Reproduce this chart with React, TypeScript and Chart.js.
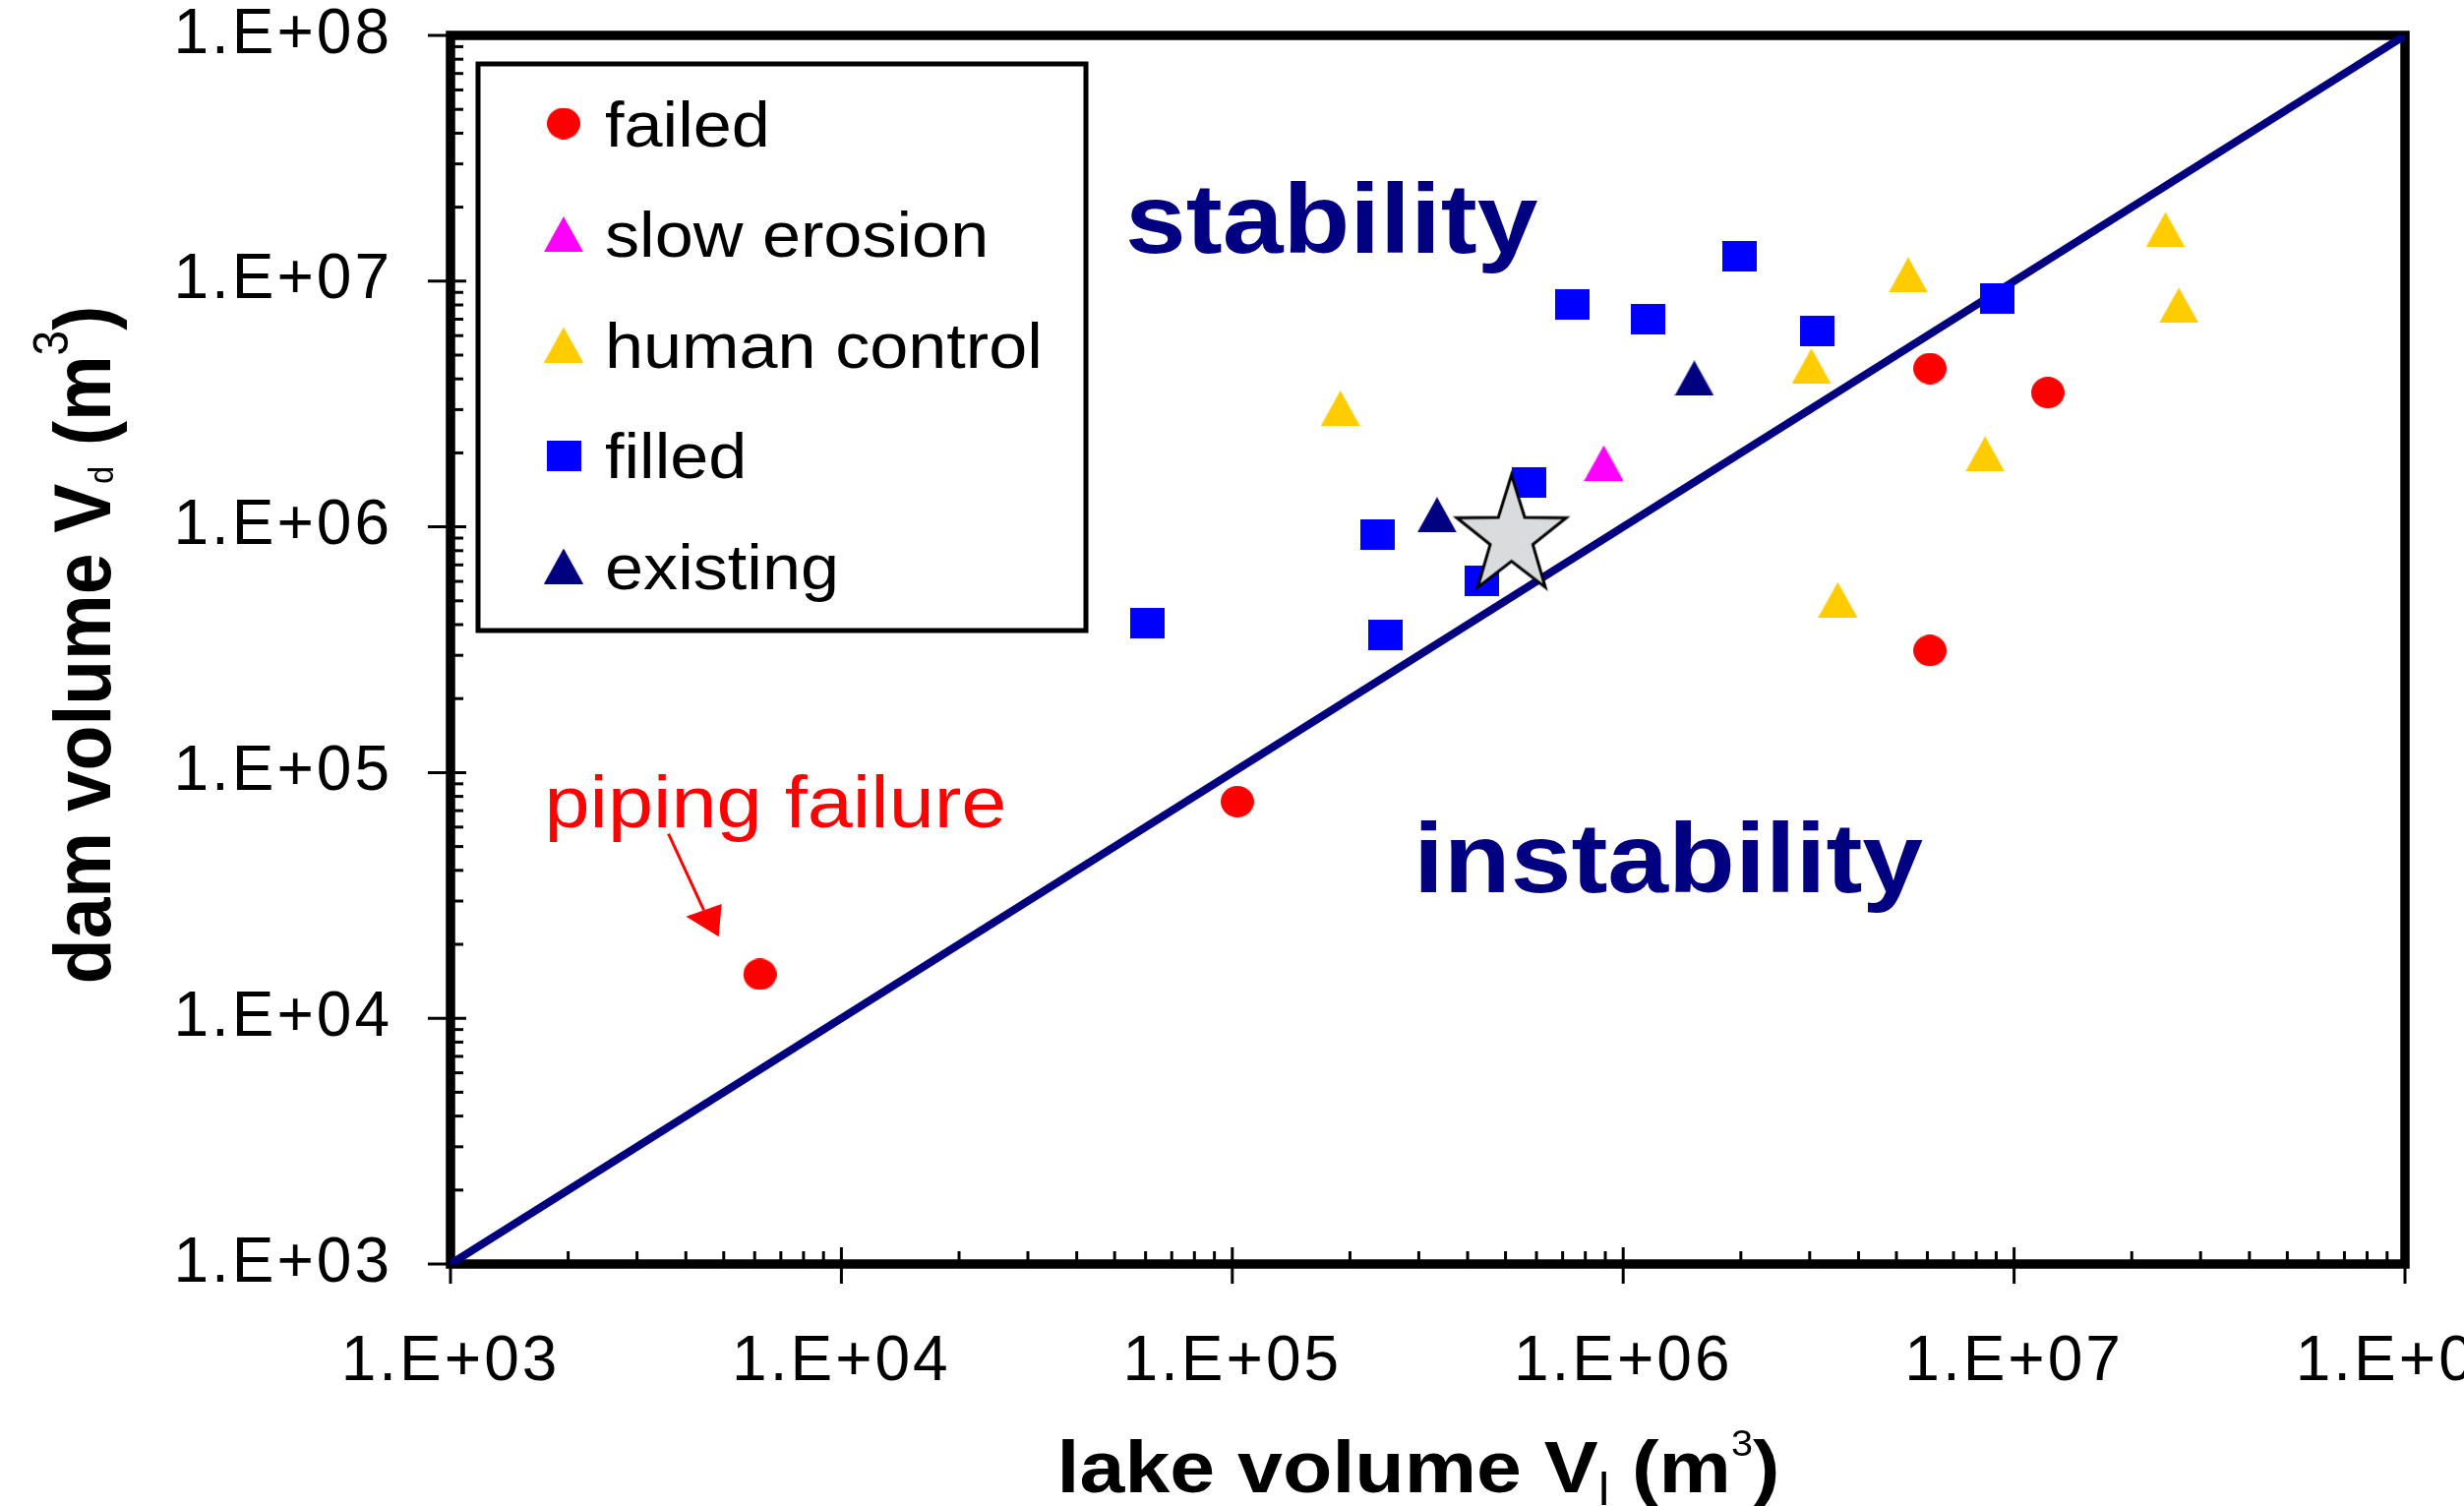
import React, { useEffect, useRef } from 'react';
import { Chart, registerables } from 'chart.js';

Chart.register(...registerables);

// ---------- data ----------
const tickValues = [1e3, 1e4, 1e5, 1e6, 1e7, 1e8];
const tickLabels = ['1.E+03', '1.E+04', '1.E+05', '1.E+06', '1.E+07', '1.E+08'];

const failedX = [6.19e3, 1.03e5, 6.09e6, 1.22e7, 6.09e6];
const failedY = [1.51e4, 7.62e4, 4.41e6, 3.52e6, 3.14e5];

const slowErosionX = [8.92e5];
const slowErosionY = [1.82e6];

const humanControlX = [1.89e5, 3.03e6, 5.36e6, 8.43e6, 3.54e6, 2.44e7, 2.64e7];
const humanControlY = [3.04e6, 4.51e6, 1.06e7, 1.98e6, 5.05e5, 1.62e7, 7.98e6];

const filledX = [6.08e4, 2.36e5, 2.46e5, 4.35e5, 5.74e5, 7.43e5, 1.16e6, 1.98e6, 3.13e6, 9.04e6];
const filledY = [4.06e5, 9.27e5, 3.64e5, 6.03e5, 1.51e6, 8.03e6, 6.97e6, 1.26e7, 6.24e6, 8.49e6];

const existingX = [3.34e5, 1.52e6];
const existingY = [1.12e6, 4.03e6];

const starX = [5.18e5];
const starY = [9.09e5];

const lineX = [1e3, 1e8];
const lineY = [1e3, 1e8];

const legendLabels = ['failed', 'slow erosion', 'human control', 'filled', 'existing'];

// ---------- styles ----------
const FONT = '"Liberation Sans", Arial, Helvetica, sans-serif';
const RED = '#ff0000';
const MAGENTA = '#ff00ff';
const GOLD = '#ffcc00';
const BLUE = '#0000ff';
const NAVY = '#000080';

const zip = (xs: number[], ys: number[]) => xs.map((x, i) => ({ x, y: ys[i] }));

function makeMarker(shape: string, color: string, w: number, h: number) {
  const c = document.createElement('canvas');
  c.width = w;
  c.height = h;
  const g = c.getContext('2d')!;
  g.fillStyle = color;
  g.beginPath();
  if (shape === 'circle') {
    g.ellipse(w / 2, h / 2, w / 2, h / 2, 0, 0, Math.PI * 2);
  } else if (shape === 'rect') {
    g.rect(0, 0, w, h);
  } else {
    g.moveTo(w / 2, 0);
    g.lineTo(w, h);
    g.lineTo(0, h);
    g.closePath();
  }
  g.fill();
  return c;
}

function makeStar(R: number, inner: number, sy: number, fill: string, stroke: string, lw: number) {
  const pad = lw + 2;
  const w = Math.ceil(2 * R + 2 * pad);
  const h = Math.ceil(2 * R * sy + 2 * pad);
  const c = document.createElement('canvas');
  c.width = w;
  c.height = h;
  const g = c.getContext('2d')!;
  const cx = w / 2;
  const cy = h / 2;
  g.beginPath();
  for (let i = 0; i < 10; i++) {
    const r = i % 2 === 0 ? R : R * inner;
    const a = -Math.PI / 2 + (i * Math.PI) / 5;
    const px = cx + r * Math.cos(a);
    const py = cy + r * Math.sin(a) * sy;
    if (i === 0) g.moveTo(px, py);
    else g.lineTo(px, py);
  }
  g.closePath();
  g.fillStyle = fill;
  g.fill();
  g.lineWidth = lw;
  g.lineJoin = 'miter';
  g.strokeStyle = stroke;
  g.stroke();
  return c;
}

type Seg = { t: string; size: number; bold?: boolean; dy?: number };
const segFont = (s: Seg) => `${s.bold ? 'bold ' : ''}${s.size}px ${FONT}`;

function drawRich(
  ctx: CanvasRenderingContext2D,
  segs: Seg[],
  x: number,
  y: number,
  sx: number,
  sy: number,
  align: 'left' | 'center',
  color: string
) {
  let total = 0;
  for (const s of segs) {
    ctx.font = segFont(s);
    total += ctx.measureText(s.t).width;
  }
  ctx.save();
  ctx.translate(x, y);
  ctx.scale(sx, sy);
  ctx.fillStyle = color;
  ctx.textAlign = 'left';
  ctx.textBaseline = 'alphabetic';
  let cx = align === 'center' ? -total / 2 : 0;
  for (const s of segs) {
    ctx.font = segFont(s);
    ctx.fillText(s.t, cx, s.dy || 0);
    cx += ctx.measureText(s.t).width;
  }
  ctx.restore();
}

const xTitle: Seg[] = [
  { t: 'lake volume V', size: 75, bold: true },
  { t: 'l', size: 46, dy: 13 },
  { t: ' (m', size: 75, bold: true },
  { t: '3', size: 36, dy: -37 },
  { t: ')', size: 75, bold: true },
];
const yTitle: Seg[] = [
  { t: 'dam volume V', size: 75, bold: true },
  { t: 'd', size: 32, dy: 3 },
  { t: ' (m', size: 75, bold: true },
  { t: '3', size: 46, dy: -40 },
  { t: ')', size: 75, bold: true },
];

export default function App() {
  const ref = useRef<HTMLCanvasElement | null>(null);

  useEffect(() => {
    const canvas = ref.current;
    if (!canvas) return;

    const mFailed = makeMarker('circle', RED, 34, 32);
    const mSlow = makeMarker('triangle', MAGENTA, 40, 36);
    const mHuman = makeMarker('triangle', GOLD, 40, 36);
    const mFilled = makeMarker('rect', BLUE, 35, 31);
    const mExisting = makeMarker('triangle', NAVY, 40, 36);
    const mStar = makeStar(58.5, 0.39, 1.08, '#dadbdd', '#000000', 3);
    const legendMarkers = [mFailed, mSlow, mHuman, mFilled, mExisting];

    const isMajor = (v: number) => Math.abs(Math.log10(v) - Math.round(Math.log10(v))) < 1e-9;

    const decor = {
      id: 'decor',
      beforeDraw(chart: any) {
        (chart.ctx as any).letterSpacing = '3px';
      },
      beforeDatasetsDraw(chart: any) {
        const ctx = chart.ctx as CanvasRenderingContext2D;
        (ctx as any).letterSpacing = '0px';
        const { left, right, top, bottom } = chart.chartArea;
        const xs = chart.scales.x;
        const ys = chart.scales.y;
        ctx.save();
        ctx.strokeStyle = '#000';
        ctx.lineWidth = 3;
        ctx.lineCap = 'butt';
        for (let e = 0; e < tickValues.length; e++) {
          const base = tickValues[e];
          for (let m = 1; m <= 9; m++) {
            const v = base * m;
            if (v > tickValues[tickValues.length - 1]) break;
            const major = isMajor(v);
            const px = xs.getPixelForValue(v);
            ctx.beginPath();
            if (major) {
              ctx.moveTo(px, bottom + 20);
              ctx.lineTo(px, bottom - 17);
            } else {
              ctx.moveTo(px, bottom);
              ctx.lineTo(px, bottom - 13);
            }
            ctx.stroke();
            const py = ys.getPixelForValue(v);
            ctx.beginPath();
            if (major) {
              ctx.moveTo(left - 23, py);
              ctx.lineTo(left + 16, py);
            } else {
              ctx.moveTo(left, py);
              ctx.lineTo(left + 13, py);
            }
            ctx.stroke();
          }
        }
        ctx.lineWidth = 9.5;
        ctx.lineJoin = 'miter';
        ctx.strokeRect(left, top, right - left, bottom - top);
        ctx.restore();
      },
      afterDatasetsDraw(chart: any) {
        const ctx = chart.ctx as CanvasRenderingContext2D;
        (ctx as any).letterSpacing = '0px';
        ctx.save();

        // legend box
        ctx.fillStyle = '#fff';
        ctx.fillRect(486, 65, 618, 576);
        ctx.lineWidth = 5;
        ctx.strokeStyle = '#000';
        ctx.strokeRect(486, 65, 618, 576);
        legendLabels.forEach((lab, i) => {
          const cy = 125.5 + i * 112.5;
          const mk = legendMarkers[i];
          ctx.drawImage(mk, 573 - mk.width / 2, cy - mk.height / 2);
          drawRich(ctx, [{ t: lab, size: 65 }], 615, cy + 23, 1.08, 1, 'left', '#000');
        });

        // region labels
        drawRich(ctx, [{ t: 'stability', size: 100, bold: true }], 1144, 256.7, 1.11, 1, 'left', NAVY);
        drawRich(ctx, [{ t: 'instability', size: 100, bold: true }], 1437, 906.7, 1.11, 1, 'left', NAVY);

        // piping failure annotation
        drawRich(ctx, [{ t: 'piping failure', size: 74 }], 553.5, 840.7, 1.12, 1, 'left', RED);
        ctx.strokeStyle = RED;
        ctx.fillStyle = RED;
        ctx.lineWidth = 3;
        ctx.beginPath();
        ctx.moveTo(679.6, 847.7);
        ctx.lineTo(715.6, 925.4);
        ctx.stroke();
        ctx.beginPath();
        ctx.moveTo(697.5, 931.7);
        ctx.lineTo(733.6, 919);
        ctx.lineTo(730.7, 952.3);
        ctx.closePath();
        ctx.fill();

        // axis titles
        drawRich(ctx, xTitle, 1442, 1516.7, 1.1, 1, 'center', '#000');
        ctx.save();
        ctx.translate(111.7, 655.5);
        ctx.rotate(-Math.PI / 2);
        drawRich(ctx, yTitle, 0, 0, 1, 1.08, 'center', '#000');
        ctx.restore();

        ctx.restore();
      },
    };

    const tickFont = { family: FONT, size: 64 };

    const chart = new Chart(canvas, {
      type: 'scatter',
      data: {
        datasets: [
          { label: 'star', data: zip(starX, starY), pointStyle: mStar as any, order: 0 },
          { label: legendLabels[4], data: zip(existingX, existingY), pointStyle: mExisting as any, order: 1 },
          { label: legendLabels[3], data: zip(filledX, filledY), pointStyle: mFilled as any, order: 2 },
          { label: legendLabels[2], data: zip(humanControlX, humanControlY), pointStyle: mHuman as any, order: 3 },
          { label: legendLabels[1], data: zip(slowErosionX, slowErosionY), pointStyle: mSlow as any, order: 4 },
          { label: legendLabels[0], data: zip(failedX, failedY), pointStyle: mFailed as any, order: 5 },
          {
            label: '1:1',
            data: zip(lineX, lineY),
            showLine: true,
            borderColor: NAVY,
            borderWidth: 8,
            pointRadius: 0,
            fill: false,
            order: 10,
          } as any,
        ],
      },
      options: {
        responsive: false,
        animation: false,
        devicePixelRatio: 1,
        layout: { padding: { left: 0, top: 36, right: 60, bottom: 0 } },
        plugins: {
          legend: { display: false },
          tooltip: { enabled: false },
          title: { display: false },
        },
        scales: {
          x: {
            type: 'logarithmic',
            position: 'bottom',
            min: 1e3,
            max: 1e8,
            afterBuildTicks: (s: any) => {
              s.ticks = tickValues.map((v) => ({ value: v }));
            },
            afterFit: (s: any) => {
              s.height = 246;
              s.paddingLeft = 0;
              s.paddingRight = 0;
              s.paddingTop = 0;
              s.paddingBottom = 0;
            },
            grid: { display: false, drawTicks: false },
            border: { display: false },
            ticks: {
              autoSkip: false,
              maxRotation: 0,
              minRotation: 0,
              padding: 62,
              color: '#000',
              font: tickFont,
              callback: (_v: any, i: number) => tickLabels[i],
            },
          },
          y: {
            type: 'logarithmic',
            position: 'left',
            min: 1e3,
            max: 1e8,
            afterBuildTicks: (s: any) => {
              s.ticks = tickValues.map((v) => ({ value: v }));
            },
            afterFit: (s: any) => {
              s.width = 458;
              s.paddingLeft = 0;
              s.paddingRight = 0;
              s.paddingTop = 0;
              s.paddingBottom = 0;
            },
            grid: { display: false, drawTicks: false },
            border: { display: false },
            ticks: {
              autoSkip: false,
              padding: 59,
              color: '#000',
              font: tickFont,
              callback: (_v: any, i: number) => tickLabels[i],
            },
          },
        },
      } as any,
      plugins: [decor as any],
    });

    return () => {
      chart.destroy();
    };
  }, []);

  return (
    <div style={{ position: 'fixed', left: 0, top: 0, width: 2505, height: 1531, background: '#fff' }}>
      <canvas ref={ref} width={2505} height={1531} style={{ display: 'block', width: 2505, height: 1531 }} />
    </div>
  );
}
